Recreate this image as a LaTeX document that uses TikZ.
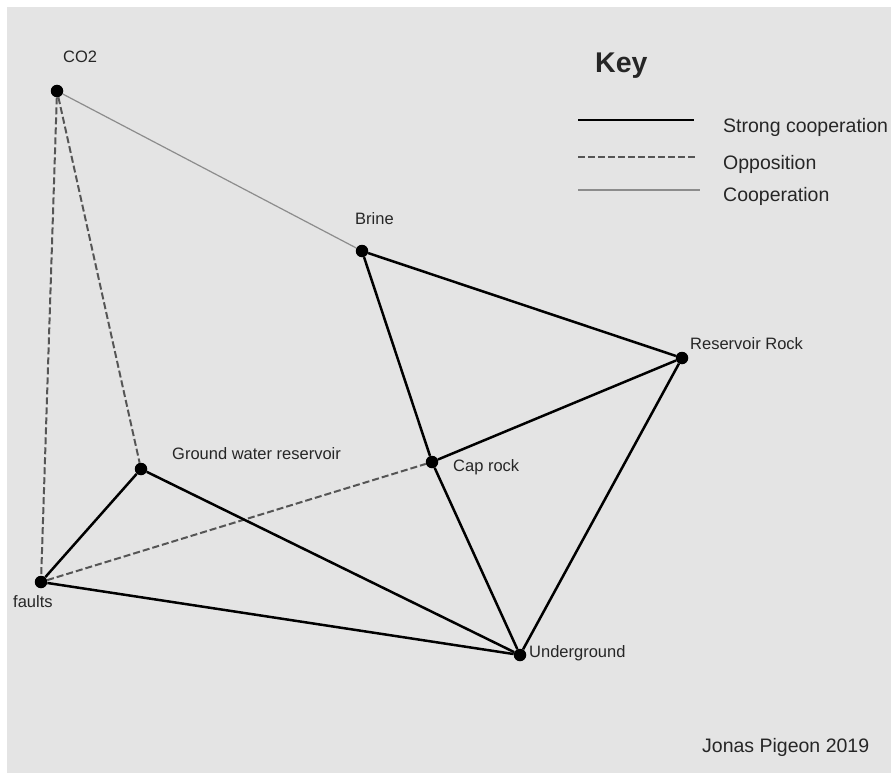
\documentclass[tikz,border=0pt]{standalone}
\usepackage{fontspec}
\setmainfont{Liberation Sans}

\definecolor{bggray}{HTML}{E4E4E4}
\definecolor{oppgray}{HTML}{555555}
\definecolor{coopgray}{HTML}{8C8C8C}

\tikzstyle{actor} = [circle, fill=black, inner sep=0pt, minimum size=12.5pt]
\tikzstyle{actorname} = [anchor=base west, inner sep=0pt, text=black!85, font=\fontsize{16.5}{19}\selectfont]
\tikzstyle{keyname} = [anchor=base west, inner sep=0pt, text=black!85, font=\fontsize{19.5}{23}\selectfont]
\tikzstyle{strongcoop} = [black, line width=2.5pt]
\tikzstyle{opposition} = [oppgray, line width=2pt, dash pattern=on 7pt off 3pt]
\tikzstyle{coop} = [coopgray, line width=1.2pt]

\begin{document}
\begin{tikzpicture}[x=1pt, y=-1pt]
	\useasboundingbox (0,0) rectangle (891,773);
	\fill[bggray] (7,7) rectangle (891,773);

	% actors
	\node [actor] (co2) at (57,91) {};
	\node [actor] (brine) at (362,251) {};
	\node [actor] (resrock) at (682,358) {};
	\node [actor] (caprock) at (432,462) {};
	\node [actor] (gwater) at (141,469) {};
	\node [actor] (faults) at (41,582) {};
	\node [actor] (under) at (520,655) {};

	\node [actorname] (co2name) at (63,63) {CO2};
	\node [actorname] (brinename) at (355,224) {Brine};
	\node [actorname] (resrockname) at (690,349) {Reservoir Rock};
	\node [actorname] (caprockname) at (453,471) {Cap rock};
	\node [actorname] (gwatername) at (172,459) {Ground water reservoir};
	\node [actorname] (faultsname) at (13,607) {faults};
	\node [actorname] (undername) at (529,657) {Underground};

	% links
	\draw [coop] (co2) -- (brine);
	\draw [opposition] (co2) -- (gwater);
	\draw [opposition] (co2) -- (faults);
	\draw [opposition] (faults) -- (caprock);
	\draw [strongcoop] (brine) -- (resrock);
	\draw [strongcoop] (brine) -- (caprock);
	\draw [strongcoop] (caprock) -- (resrock);
	\draw [strongcoop] (resrock) -- (under);
	\draw [strongcoop] (caprock) -- (under);
	\draw [strongcoop] (gwater) -- (under);
	\draw [strongcoop] (gwater) -- (faults);
	\draw [strongcoop] (faults) -- (under);

	% key
	\node [anchor=base west, inner sep=0pt, text=black!85, font=\fontsize{28.5}{34}\selectfont\bfseries] (keytitle) at (595,73) {Key};
	\coordinate (ks1) at (578,120);
	\coordinate (ks2) at (694,120);
	\coordinate (ko1) at (578,157);
	\coordinate (ko2) at (697,157);
	\coordinate (kc1) at (578,190);
	\coordinate (kc2) at (700,190);
	\draw [strongcoop, line width=2.2pt] (ks1) -- (ks2);
	\draw [opposition] (ko1) -- (ko2);
	\draw [coop, line width=1.6pt] (kc1) -- (kc2);
	\node [keyname] (kstrong) at (723,132) {Strong cooperation};
	\node [keyname] (kopp) at (723,169) {Opposition};
	\node [keyname] (kcoop) at (723,201.5) {Cooperation};

	\node [keyname] (author) at (702,752) {Jonas Pigeon 2019};
\end{tikzpicture}
\end{document}
